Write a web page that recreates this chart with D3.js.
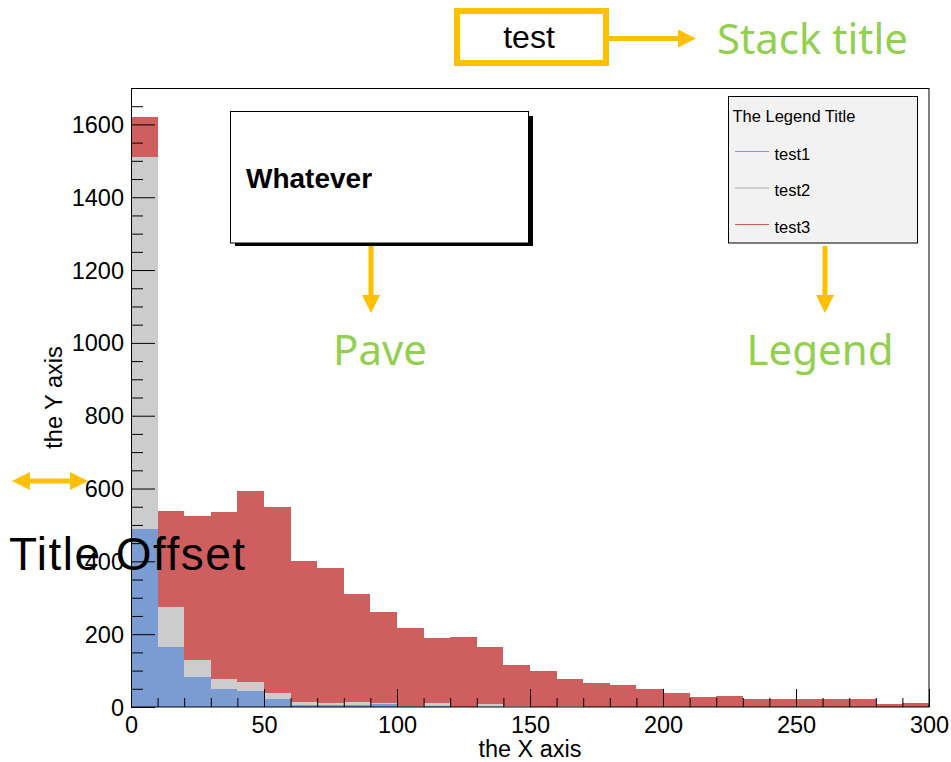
<!DOCTYPE html>
<html>
<head>
<meta charset="utf-8">
<script src="https://cdn.jsdelivr.net/npm/d3@7"></script>
<style>
	body { margin: 0; background: #fff; }
	svg text { font-family: "Liberation Sans", Arial, sans-serif; }
	.note { font-family: "Noto Sans", sans-serif; fill: #92d050; }
</style>
</head>
<body>
<div id="chart"><svg></svg></div>
<script>
// histogram bins: 30 bins of width 10 on [0, 300]
var binEdges = [0, 10, 20, 30, 40, 50, 60, 70, 80, 90, 100, 110, 120, 130, 140, 150,
	160, 170, 180, 190, 200, 210, 220, 230, 240, 250, 260, 270, 280, 290, 300];
var seriesNames = ["test1", "test2", "test3"];
var seriesColors = ["#7b9bd3", "#cccccc", "#cf5e5f"];
var test1 = [488, 165, 82, 49, 44, 22, 6, 5, 5, 8, 4, 4, 0, 0, 0, 0, 0, 0, 0, 0, 0, 0, 0, 0, 0, 0, 0, 0, 0, 0];
var test2 = [1022, 109, 47, 28, 25, 16, 8, 6, 9, 2, 0, 6, 0, 7, 4, 0, 4, 0, 0, 0, 0, 0, 0, 0, 0, 0, 0, 0, 0, 0];
var test3 = [109, 264, 396, 458, 524, 511, 387, 370, 296, 251, 212, 179, 192, 157, 111, 100, 74, 67, 61, 50,
	39, 28, 31, 21, 21, 21, 22, 21, 8, 11];
var xMajorTicks = [0, 50, 100, 150, 200, 250, 300];
var yMajorTicks = [0, 200, 400, 600, 800, 1000, 1200, 1400, 1600];
var yMax = 1700;

function StackChart(selector) {
	var self = this;
	self.selector = selector;
	self.width = 951;
	self.height = 762;
	self.margin = { top: 88, right: 22, bottom: 55, left: 131 };
	self.svg = d3.select(self.selector + " svg");
}

StackChart.prototype.draw = function() {
	var self = this;
	self.setDimensions();
	var data = self.reformatData();
	self.x = d3.scaleLinear().domain([binEdges[0], binEdges[binEdges.length - 1]])
		.range([self.margin.left, self.width - self.margin.right]);
	self.y = d3.scaleLinear().domain([0, yMax])
		.range([self.height - self.margin.bottom, self.margin.top]);
	self.drawBars(data);
	self.drawAxes();
	self.drawTitle();
	self.drawPave();
	self.drawLegend();
	self.drawNotes();
};

StackChart.prototype.setDimensions = function() {
	var self = this;
	self.svg.attr("width", self.width).attr("height", self.height);
	self.svg.append("rect").attr("width", self.width).attr("height", self.height).attr("fill", "#fff");
};

StackChart.prototype.reformatData = function() {
	var rows = [];
	for (var i = 0; i < binEdges.length - 1; i++) {
		rows.push({ lo: binEdges[i], hi: binEdges[i + 1], test1: test1[i], test2: test2[i], test3: test3[i] });
	}
	return d3.stack().keys(seriesNames)(rows);
};

StackChart.prototype.drawBars = function(stacked) {
	var self = this;
	var layers = self.svg.selectAll("g.layer")
		.data(stacked)
		.enter().append("g")
		.attr("class", "layer")
		.attr("shape-rendering", "crispEdges")
		.attr("fill", function(d, i) { return seriesColors[i]; });
	layers.selectAll("rect")
		.data(function(d) { return d; })
		.enter().append("rect")
		.attr("x", function(d) { return Math.round(self.x(d.data.lo)); })
		.attr("width", function(d) { return Math.round(self.x(d.data.hi)) - Math.round(self.x(d.data.lo)); })
		.attr("y", function(d) { return self.y(d[1]); })
		.attr("height", function(d) { return Math.max(0, self.y(d[0]) - self.y(d[1])); });
};

StackChart.prototype.drawAxes = function() {
	var self = this;
	var bottom = self.height - self.margin.bottom;
	var left = self.margin.left;
	var xMinor = binEdges.filter(function(v) { return xMajorTicks.indexOf(v) < 0; });
	var yMinor = d3.range(0, yMax + 1, 50).filter(function(v) { return yMajorTicks.indexOf(v) < 0; });

	self.svg.append("g").attr("class", "axis")
		.attr("transform", "translate(0," + bottom + ")")
		.call(d3.axisBottom(self.x).tickValues(xMinor).tickSizeInner(-9).tickSizeOuter(0).tickFormat(""));
	self.svg.append("g").attr("class", "axis xmajor")
		.attr("transform", "translate(0," + bottom + ")")
		.call(d3.axisBottom(self.x).tickValues(xMajorTicks).tickSizeInner(-18).tickSizeOuter(0)
			.tickPadding(9).tickFormat(d3.format("d")));
	self.svg.append("g").attr("class", "axis")
		.attr("transform", "translate(" + left + ",0)")
		.call(d3.axisLeft(self.y).tickValues(yMinor).tickSizeInner(-12).tickSizeOuter(0).tickFormat(""));
	self.svg.append("g").attr("class", "axis ymajor")
		.attr("transform", "translate(" + left + ",0)")
		.call(d3.axisLeft(self.y).tickValues(yMajorTicks).tickSizeInner(-24).tickSizeOuter(0)
			.tickPadding(7).tickFormat(d3.format("d")));

	self.svg.selectAll(".axis .domain").remove();
	self.svg.selectAll(".axis line").attr("stroke", "#000").attr("stroke-width", 1);
	self.svg.selectAll(".axis text")
		.attr("font-family", "Liberation Sans, Arial, sans-serif")
		.attr("font-size", 23.5).attr("fill", "#000");
	self.svg.selectAll(".ymajor text").attr("dy", "0.34em");

	// frame
	self.svg.append("rect")
		.attr("x", left + 0.5).attr("y", self.margin.top + 0.5)
		.attr("width", self.width - self.margin.right - left - 0.5)
		.attr("height", bottom - self.margin.top - 0.5)
		.attr("fill", "none").attr("stroke", "#000");

	self.svg.append("text")
		.attr("x", (left + self.width - self.margin.right) / 2).attr("y", 757)
		.attr("text-anchor", "middle").attr("font-size", 23.5)
		.text("the X axis");
	self.svg.append("text")
		.attr("transform", "translate(62," + (self.margin.top + bottom) / 2 + ") rotate(-90)")
		.attr("text-anchor", "middle").attr("font-size", 23.5)
		.text("the Y axis");
};

StackChart.prototype.drawTitle = function() {
	var self = this;
	self.svg.append("rect")
		.attr("x", 457).attr("y", 11).attr("width", 149).attr("height", 52)
		.attr("fill", "#fff").attr("stroke", "#ffc000").attr("stroke-width", 6);
	self.svg.append("text")
		.attr("x", 529).attr("y", 48).attr("text-anchor", "middle")
		.attr("font-size", 32).text("test");
};

StackChart.prototype.drawPave = function() {
	var self = this;
	self.svg.append("rect")
		.attr("x", 235).attr("y", 116).attr("width", 298).attr("height", 130).attr("fill", "#000");
	self.svg.append("rect")
		.attr("x", 230.5).attr("y", 111.5).attr("width", 298).attr("height", 131.5)
		.attr("fill", "#fff").attr("stroke", "#000");
	self.svg.append("text")
		.attr("x", 246).attr("y", 188).attr("font-size", 28).attr("font-weight", "bold")
		.text("Whatever");
};

StackChart.prototype.drawLegend = function() {
	var self = this;
	var g = self.svg.append("g").attr("transform", "translate(728.5,96.5)");
	g.append("rect").attr("width", 189).attr("height", 146.5)
		.attr("fill", "#f2f2f2").attr("stroke", "#000");
	g.append("text").attr("x", 4).attr("y", 25).attr("font-size", 16.5).text("The Legend Title");
	var entries = g.selectAll("g.entry")
		.data(seriesNames)
		.enter().append("g")
		.attr("class", "entry")
		.attr("transform", function(d, i) { return "translate(0," + (55 + i * 36.5) + ")"; });
	entries.append("line")
		.attr("x1", 6).attr("x2", 40).attr("y1", 0).attr("y2", 0)
		.attr("shape-rendering", "crispEdges")
		.attr("stroke", function(d, i) { return seriesColors[i]; }).attr("stroke-width", 1.2);
	entries.append("text")
		.attr("x", 46).attr("y", 8).attr("font-size", 16.5)
		.text(function(d) { return d; });
};

StackChart.prototype.drawNotes = function() {
	var self = this;
	var orange = "#ffc000";
	function arrow(x1, y1, x2, y2) {
		var a = Math.atan2(y2 - y1, x2 - x1), len = 18, half = 9;
		var bx = x2 - len * Math.cos(a), by = y2 - len * Math.sin(a);
		self.svg.append("line")
			.attr("x1", x1).attr("y1", y1).attr("x2", bx + Math.cos(a)).attr("y2", by + Math.sin(a))
			.attr("stroke", orange).attr("stroke-width", 5);
		self.svg.append("polygon")
			.attr("points", [[x2, y2], [bx - half * Math.sin(a), by + half * Math.cos(a)],
				[bx + half * Math.sin(a), by - half * Math.cos(a)]].join(" "))
			.attr("fill", orange);
	}
	arrow(609, 38.5, 696, 38.5);
	arrow(371, 246, 371, 313);
	arrow(825, 246, 825, 313);
	arrow(50, 481, 88, 481);
	arrow(50, 481, 12, 481);

	self.svg.append("text").attr("class", "note")
		.attr("x", 717).attr("y", 54).attr("font-size", 42).text("Stack title");
	self.svg.append("text").attr("class", "note")
		.attr("x", 380).attr("y", 365).attr("text-anchor", "middle").attr("font-size", 42).text("Pave");
	self.svg.append("text").attr("class", "note")
		.attr("x", 820).attr("y", 365).attr("text-anchor", "middle").attr("font-size", 42).text("Legend");
	self.svg.append("text")
		.attr("x", 9).attr("y", 570).attr("font-family", "Noto Sans, sans-serif")
		.attr("font-size", 46).attr("fill", "#000")
		.attr("textLength", 236).attr("lengthAdjust", "spacing")
		.text("Title Offset");
};

var chart = new StackChart("#chart");
chart.draw();
</script>
</body>
</html>
